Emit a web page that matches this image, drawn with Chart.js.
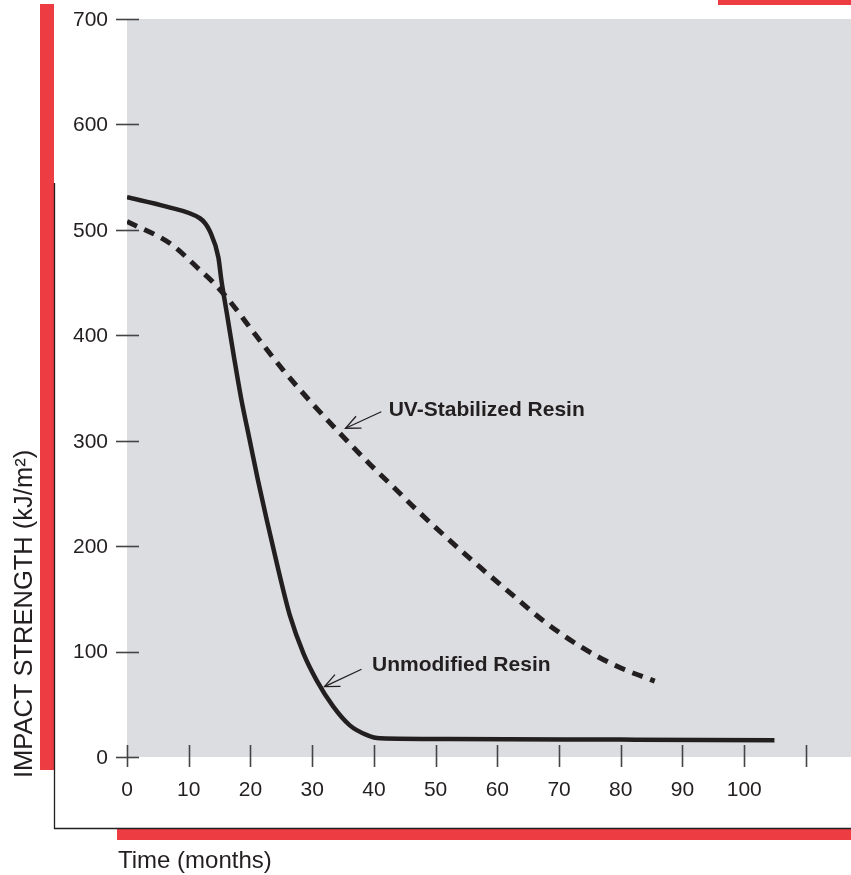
<!DOCTYPE html>
<html><head><meta charset="utf-8">
<script src="https://cdn.jsdelivr.net/npm/chart.js@4.4.0/dist/chart.umd.min.js"></script>
<style>html,body{margin:0;padding:0;background:#fff;overflow:hidden}#wrap{width:851px;height:875px;position:relative}</style>
</head><body><div id="wrap"><canvas id="c" width="851" height="875"></canvas></div>
<script>
// ---- data ----
const monthsUnmodified = [0, 6.4, 11.8, 12.7, 13.4, 14.8, 15.3, 16.2, 17.4, 18.5, 19.9, 21.2, 22.6, 24.5, 26.4, 28.6, 30.7, 33.4, 36.1, 38.8, 41, 52, 80, 104.9];
const unmodifiedResin  = [531, 522, 511, 506, 499, 474, 452, 420, 377, 340, 300, 263, 226, 178, 134, 98, 73, 48, 30, 21, 17.7, 17, 16.5, 16];
const monthsUV = [0, 7, 11.8, 14, 16.7, 21, 25.3, 29.9, 34.5, 39.3, 43.7, 47, 51.8, 57.2, 62.6, 67.5, 73.4, 79.4, 85.5];
const uvStabilizedResin = [508, 487, 462, 450, 432, 399, 367, 336, 307, 278, 253, 234, 208, 180, 153, 129, 105, 86, 72];
const xTickValues = [0, 10, 20, 30, 40, 50, 60, 70, 80, 90, 100, 110];
const xTickLabels = ['0', '10', '20', '30', '40', '50', '60', '70', '80', '90', '100', ''];
const yTickValues = [0, 100, 200, 300, 400, 500, 600, 700];
const yTickLabels = ['0', '100', '200', '300', '400', '500', '600', '700'];
const seriesNames = ['Unmodified Resin', 'UV-Stabilized Resin'];
const xTitle = 'Time (months)';
const yTitle = 'IMPACT STRENGTH (kJ/m\u00B2)';

// ---- styles / layout ----
const INK = '#231f20';
const TICK = '#444446';
const GRAY = '#dcdde0';
const RED = '#ee3d42';
const FONT = '"Liberation Sans", Arial, Helvetica, sans-serif';

// annotation anchors in data coordinates
const notes = [
  {text: seriesNames[1], textAt: [42.4, 329], from: [41.2, 327.5], to: [35.4, 311.8]},
  {text: seriesNames[0], textAt: [39.7, 87.3], from: [38.0, 83.2], to: [32.0, 66.7]}
];

const deco = {
  id: 'deco',
  beforeDraw(chart) {
    const ctx = chart.ctx, a = chart.chartArea;
    ctx.save();
    ctx.fillStyle = '#ffffff';
    ctx.fillRect(0, 0, chart.width, chart.height);
    ctx.fillStyle = GRAY;
    ctx.fillRect(a.left, a.top, a.right - a.left, a.bottom - a.top);
    ctx.restore();
  },
  afterDraw(chart) {
    const ctx = chart.ctx, xs = chart.scales.x, ys = chart.scales.y;
    const y0 = ys.getPixelForValue(0);
    ctx.save();
    // frame decorations
    ctx.fillStyle = RED;
    ctx.fillRect(40, 4, 14, 766);
    ctx.fillRect(117, 829, 734, 11);
    ctx.fillRect(718, 0, 133, 5);
    ctx.strokeStyle = INK;
    ctx.lineWidth = 1.3;
    ctx.beginPath();
    ctx.moveTo(54.5, 183);
    ctx.lineTo(54.5, 828.5);
    ctx.lineTo(851, 828.5);
    ctx.stroke();

    // ticks
    ctx.strokeStyle = TICK;
    ctx.lineWidth = 1.6;
    const x0 = xs.getPixelForValue(0);
    yTickValues.forEach(v => {
      const y = Math.round(ys.getPixelForValue(v)) + 0.5;
      ctx.beginPath(); ctx.moveTo(x0 - 11, y); ctx.lineTo(x0 + 12, y); ctx.stroke();
    });
    xTickValues.forEach(v => {
      const x = Math.round(xs.getPixelForValue(v)) + 0.5;
      ctx.beginPath(); ctx.moveTo(x, y0 - 12); ctx.lineTo(x, y0 + 10); ctx.stroke();
    });

    // tick labels
    ctx.fillStyle = INK;
    ctx.font = '21px ' + FONT;
    ctx.textAlign = 'right';
    ctx.textBaseline = 'middle';
    yTickValues.forEach((v, i) => {
      ctx.fillText(yTickLabels[i], 108, ys.getPixelForValue(v) + 1);
    });
    ctx.textAlign = 'center';
    xTickValues.forEach((v, i) => {
      if (xTickLabels[i]) ctx.fillText(xTickLabels[i], xs.getPixelForValue(v), y0 + 33);
    });

    // axis titles
    ctx.textAlign = 'left';
    ctx.textBaseline = 'alphabetic';
    ctx.font = '24px ' + FONT;
    ctx.fillText(xTitle, 118, 868);
    ctx.save();
    ctx.translate(32, 778);
    ctx.rotate(-Math.PI / 2);
    ctx.font = '25.5px ' + FONT;
    ctx.fillText(yTitle, 0, 0);
    ctx.restore();

    // annotations
    ctx.font = 'bold 21px ' + FONT;
    ctx.textBaseline = 'middle';
    ctx.strokeStyle = INK;
    ctx.lineWidth = 1.3;
    notes.forEach(n => {
      const tx = xs.getPixelForValue(n.textAt[0]), ty = ys.getPixelForValue(n.textAt[1]);
      ctx.fillText(n.text, tx, ty);
      const fx = xs.getPixelForValue(n.from[0]), fy = ys.getPixelForValue(n.from[1]);
      const px = xs.getPixelForValue(n.to[0]), py = ys.getPixelForValue(n.to[1]);
      ctx.beginPath(); ctx.moveTo(fx, fy); ctx.lineTo(px, py); ctx.stroke();
      const ang = Math.atan2(fy - py, fx - px);
      const L = 16, w = 0.42;
      ctx.beginPath();
      ctx.moveTo(px + L * Math.cos(ang - w), py + L * Math.sin(ang - w));
      ctx.lineTo(px, py);
      ctx.lineTo(px + L * Math.cos(ang + w), py + L * Math.sin(ang + w));
      ctx.stroke();
    });
    ctx.restore();
  }
};

new Chart(document.getElementById('c'), {
  type: 'line',
  data: {
    datasets: [
      {
        label: seriesNames[0],
        data: monthsUnmodified.map((m, i) => ({x: m, y: unmodifiedResin[i]})),
        borderColor: INK, borderWidth: 4.5, pointRadius: 0,
        cubicInterpolationMode: 'monotone', fill: false, borderCapStyle: 'butt'
      },
      {
        label: seriesNames[1],
        data: monthsUV.map((m, i) => ({x: m, y: uvStabilizedResin[i]})),
        borderColor: INK, borderWidth: 5, pointRadius: 0, borderDash: [11, 8],
        cubicInterpolationMode: 'monotone', fill: false, borderCapStyle: 'butt'
      }
    ]
  },
  options: {
    responsive: false,
    animation: false,
    devicePixelRatio: 1,
    layout: {padding: {left: 127, top: 19, right: 0, bottom: 118}},
    plugins: {legend: {display: false}, tooltip: {enabled: false}},
    scales: {
      x: {type: 'linear', min: 0, max: 117.3, display: false},
      y: {type: 'linear', min: 0, max: 700, display: false}
    }
  },
  plugins: [deco]
});
</script></body></html>
